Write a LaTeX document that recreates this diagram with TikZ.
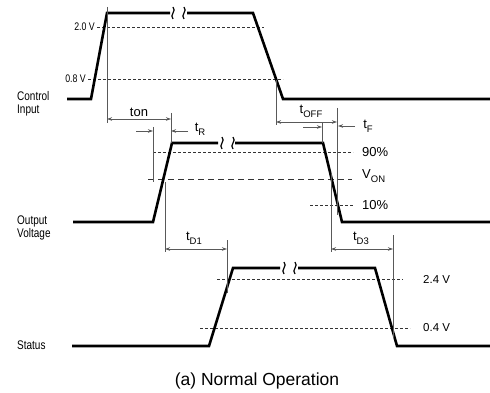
\documentclass[tikz,border=0pt]{standalone}
\usepackage{fontspec}
\setmainfont{Liberation Sans}
\newfontfamily\condfont[FakeStretch=0.8]{Liberation Sans}
\usetikzlibrary{arrows.meta}
\newcommand\fsz[1]{\fontsize{#1}{#1}\selectfont}
\newcommand\tsub[2]{#1\raisebox{-0.55ex}{\fsz{9.5}#2}}
\tikzset{
  sig/.style={line width=2.6pt, line join=miter, black},
  thin/.style={line width=0.8pt, black!65},
  dim/.style={line width=0.8pt, black!65, {Stealth[length=5pt,width=3.5pt]}-{Stealth[length=5pt,width=3.5pt]}},
  dimr/.style={line width=0.8pt, black!65, -{Stealth[length=5pt,width=3.5pt]}},
  dotl/.style={line width=0.7pt, black!80, dash pattern=on 2.5pt off 2.5pt},
  dashl/.style={line width=0.8pt, black!80, dash pattern=on 6pt off 4pt},
  sq/.style={line width=1.2pt, black},
  lbl/.style={inner sep=0pt, font=\condfont\fsz{12.5}, anchor=west, align=left},
  vlbl/.style={inner sep=0pt, font=\condfont\fsz{11}, anchor=east},
  rlbl/.style={inner sep=0pt, font=\fsz{13}, anchor=west},
  tlbl/.style={inner sep=0pt, font=\fsz{13}},
}
\newcommand\brk[2]{%
  \draw[sq] (#1,#2-6) .. controls (#1+4,#2-2) and (#1-4,#2+2) .. (#1,#2+6);
  \draw[sq] (#1+11,#2-6) .. controls (#1+15,#2-2) and (#1+7,#2+2) .. (#1+11,#2+6);}
\begin{document}
\begin{tikzpicture}[x=1pt,y=-1pt]
\useasboundingbox (0,0) rectangle (490,393);
% ---------- Control input ----------
\draw[dotl] (97,27) -- (264,27);
\draw[dotl] (88,79) -- (283,79);
\node[vlbl] (v20) at (95,27) {2.0 V};
\node[vlbl] (v08) at (86,79) {0.8 V};
\draw[sig] (67,99) -- (91,99) -- (107,13) -- (170,13);
\draw[sig] (187,13) -- (253,13) -- (283,99) -- (490,99);
\brk{173}{13}
\node[lbl] (ci) at (17,104) {Control\\[1pt]Input};
% ---------- Output voltage ----------
\draw[dotl] (153,152) -- (353,152);
\draw[dashl] (148,179) -- (352,179);
\draw[dotl] (310,205) -- (353,205);
\draw[sig] (73,222) -- (153,222) -- (172,143) -- (218,143);
\draw[sig] (235,143) -- (323,143) -- (342,222) -- (490,222);
\brk{222}{143}
\node[lbl] (ov) at (17,228) {Output\\[1pt]Voltage};
\node[rlbl] (p90) at (362,152) {90\%};
\node[rlbl] (von) at (362,176) {\tsub{V}{ON}};
\node[rlbl] (p10) at (362,205) {10\%};
% ---------- Status ----------
\draw[dotl] (217,279) -- (403,279);
\draw[dotl] (200,328) -- (410,328);
\draw[sig] (72,346) -- (209,346) -- (233,268) -- (280,268);
\draw[sig] (298,268) -- (375,268) -- (397,346) -- (490,346);
\brk{284}{268}
\node[lbl] (st) at (17,345) {Status};
\node[rlbl, font=\fsz{11.5}] (v24) at (423,279) {2.4 V};
\node[rlbl, font=\fsz{11.5}] (v04) at (423,328) {0.4 V};
% ---------- timing marks ----------
% ton
\coordinate (a1) at (107,7);   \coordinate (a2) at (107,123);
\coordinate (b1) at (171,113); \coordinate (b2) at (171,143);
\draw[thin] (a1) -- (a2);
\draw[thin] (b1) -- (b2);
\coordinate (ton1) at (107,119); \coordinate (ton2) at (171,119);
\draw[dim] (ton1) -- (ton2);
\node[tlbl] (ton) at (139,112) {ton};
% tR
\coordinate (c1) at (153,127); \coordinate (c2) at (153,182);
\draw[thin] (c1) -- (c2);
\coordinate (r1) at (136,131); \coordinate (r2) at (153,131);
\draw[dimr] (r1) -- (r2);
\coordinate (r3) at (188,131); \coordinate (r4) at (171,131);
\draw[dimr] (r3) -- (r4);
\node[tlbl] (tr) at (200,129) {\tsub{t}{R}};
% tOFF
\coordinate (d1) at (276,80);  \coordinate (d2) at (276,125);
\draw[thin] (d1) -- (d2);
\coordinate (e1) at (337,108); \coordinate (e2) at (337,215);
\draw[thin] (e1) -- (e2);
\coordinate (o1) at (276,122); \coordinate (o2) at (337,122);
\draw[dim] (o1) -- (o2);
\node[tlbl] (toff) at (311,111) {\tsub{t}{OFF}};
% tF
\coordinate (f1) at (322,123); \coordinate (f2) at (322,143);
\draw[thin] (f1) -- (f2);
\coordinate (g1) at (303,127); \coordinate (g2) at (322,127);
\draw[dimr] (g1) -- (g2);
\coordinate (g3) at (355,126); \coordinate (g4) at (338,126);
\draw[dimr] (g3) -- (g4);
\node[tlbl] (tf) at (368,126) {\tsub{t}{F}};
% tD1
\coordinate (h1) at (165,182); \coordinate (h2) at (165,252);
\draw[thin] (h1) -- (h2);
\coordinate (i1) at (227,240); \coordinate (i2) at (227,293);
\draw[thin] (i1) -- (i2);
\coordinate (j1) at (165,249); \coordinate (j2) at (227,249);
\draw[dim] (j1) -- (j2);
\node[tlbl] (td1) at (194,238) {\tsub{t}{D1}};
% tD3
\coordinate (k1) at (331,173); \coordinate (k2) at (331,252);
\draw[thin] (k1) -- (k2);
\coordinate (l1) at (393,235); \coordinate (l2) at (393,338);
\draw[thin] (l1) -- (l2);
\coordinate (m1) at (331,249); \coordinate (m2) at (393,249);
\draw[dim] (m1) -- (m2);
\node[tlbl] (td3) at (361,238) {\tsub{t}{D3}};
% caption
\node[inner sep=0pt, font=\fsz{17.5}] (cap) at (257,381) {(a) Normal Operation};
\end{tikzpicture}
\end{document}
